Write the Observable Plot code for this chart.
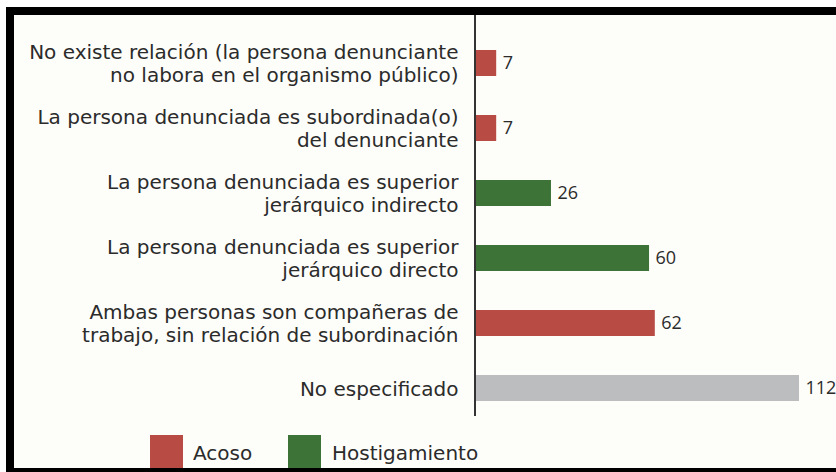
<!DOCTYPE html>
<html>
<head>
<meta charset="utf-8">
<script src="https://cdn.jsdelivr.net/npm/d3@7"></script>
<script src="https://cdn.jsdelivr.net/npm/@observablehq/plot@0.6"></script>
<style>
  html, body { margin: 0; padding: 0; background: #ffffff; width: 836px; height: 472px; overflow: hidden; }
  #frame { position: absolute; left: 6px; top: 7px; width: 840px; height: 453px;
    border-top: 8px solid #000; border-left: 8px solid #000; border-bottom: 4px solid #000;
    background: #fdfdf9; overflow: hidden; }
  #chart { position: absolute; left: 0; top: 0; }
  #legend { position: absolute; left: 0; top: 420px; width: 822px; height: 40px;
    font-family: "DejaVu Sans", sans-serif; font-size: 20px; color: #2b2b2b; line-height: 24px; }
  .sw { position: absolute; top: 0; width: 33px; height: 33px; }
  .lb { position: absolute; top: 6px; }
</style>
</head>
<body>
<div id="frame">
  <div id="chart"></div>
  <div id="legend"></div>
</div>
<script>
const categories = [
  "No existe relación (la persona denunciante\nno labora en el organismo público)",
  "La persona denunciada es subordinada(o)\ndel denunciante",
  "La persona denunciada es superior\njerárquico indirecto",
  "La persona denunciada es superior\njerárquico directo",
  "Ambas personas son compañeras de\ntrabajo, sin relación de subordinación",
  "No especificado"
];
const values = [7, 7, 26, 60, 62, 112];
const types = ["Acoso", "Acoso", "Hostigamiento", "Hostigamiento", "Acoso", "No especificado"];
const typeDomain = ["Acoso", "Hostigamiento", "No especificado"];
const typeColors = ["#b84c45", "#3e7337", "#bcbdbf"];
const legendItems = ["Acoso", "Hostigamiento"];

const data = categories.map((c, i) => ({cat: c, value: values[i], type: types[i]}));

const font = "DejaVu Sans";
const chart = Plot.plot({
  width: 822,
  height: 420,
  marginTop: 0,
  marginBottom: 19,
  marginLeft: 462,
  marginRight: 0,
  style: {background: "transparent", fontFamily: font, overflow: "visible"},
  x: {domain: [0, 112], range: [462, 785], axis: null},
  y: {domain: categories, range: [13, 407], paddingInner: 0.6, paddingOuter: 0.3, axis: null},
  color: {domain: typeDomain, range: typeColors},
  marks: [
    Plot.barX(data, {x: "value", y: "cat", fill: "type"}),
    Plot.ruleX([0], {stroke: "#333", strokeWidth: 2, dx: -1.5}),
    Plot.text(data, {x: 0, y: "cat", text: "cat", textAnchor: "end", dx: -18,
      fontSize: 20, lineHeight: 1.13, fill: "#2b2b2b", fontFamily: font}),
    Plot.text(data, {x: "value", y: "cat", text: d => String(d.value), textAnchor: "start", dx: 6,
      fontSize: 18, fill: "#2b2b2b", fontFamily: "Open Sans"})
  ]
});
document.getElementById("chart").appendChild(chart);

const legend = document.getElementById("legend");
const swLeft = [136, 274];
const lbLeft = [179, 318];
legendItems.forEach((t, i) => {
  const sw = document.createElement("div");
  sw.className = "sw";
  sw.style.left = swLeft[i] + "px";
  sw.style.background = typeColors[typeDomain.indexOf(t)];
  legend.appendChild(sw);
  const lb = document.createElement("div");
  lb.className = "lb";
  lb.style.left = lbLeft[i] + "px";
  lb.textContent = t;
  legend.appendChild(lb);
});
</script>
</body>
</html>
